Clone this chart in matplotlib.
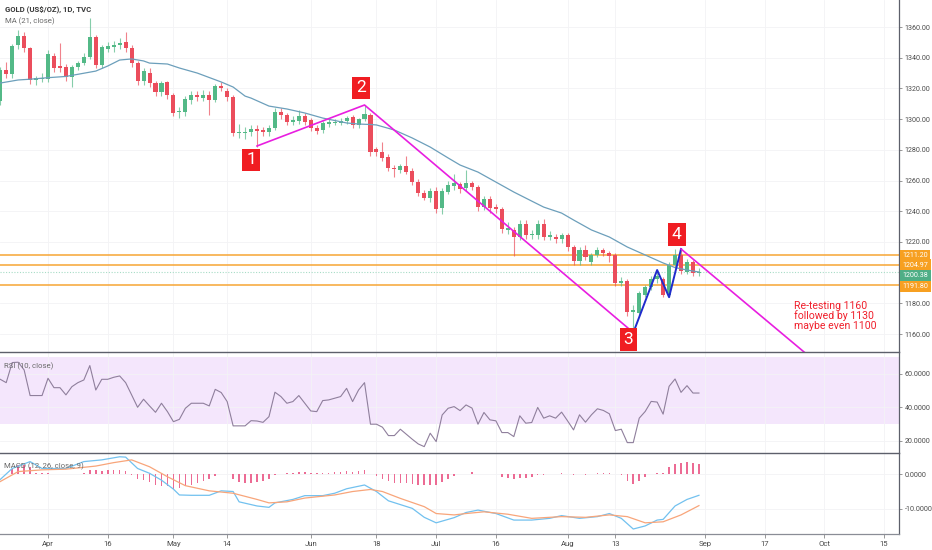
import matplotlib
matplotlib.use('Agg')
import matplotlib.pyplot as plt
import numpy as np
from matplotlib.transforms import blended_transform_factory

plt.rcParams['font.family'] = ['Roboto', 'DejaVu Sans']

# ---------------- data (bar index 0 = 2 Apr 2018, daily bars) ----------------
first_bar = -8
opens = [1312, 1332, 1329.5, 1348, 1354, 1346.3, 1325.5, 1326,
         1326, 1341, 1334, 1334, 1327.4, 1334, 1336.5, 1340.5, 1353.5, 1335.2,
         1346, 1347, 1348.5, 1350, 1346.3, 1336.5, 1324.8, 1330, 1323.5, 1317.7,
         1324, 1315.7, 1304.6, 1304.6, 1312.4, 1315.7, 1313.7, 1315.7, 1312.4, 1321.6,
         1318.3, 1314.4, 1291, 1291, 1291.6, 1293.6, 1292.9, 1291.6, 1294.2, 1304.6,
         1302.7, 1298, 1298.8, 1302, 1299.4, 1294.2, 1292.9, 1296.8, 1297.5, 1297.4,
         1298.8, 1301.4, 1296.2, 1300, 1302.7, 1280.5, 1278.6, 1275.3, 1268.1, 1266.8,
         1269.4, 1266.2, 1259, 1251.9, 1248.6, 1253.2, 1242.1, 1252.5, 1256.4, 1257.7,
         1255.1, 1258.4, 1255.8, 1242.7, 1248, 1242.7, 1241.4, 1227.8, 1227.8, 1223.2,
         1231.7, 1224.5, 1224.5, 1231.7, 1223.2, 1223.2, 1221.9, 1224.5, 1216.7, 1207.6,
         1214.7, 1206.9, 1211.5, 1214.7, 1212.8, 1211.5, 1193.2, 1194.5, 1174.3, 1173.7,
         1185.4, 1190.6, 1195.8, 1195.8, 1185.4, 1205, 1211.5, 1200.4, 1206.9, 1199.7]
highs = [1334, 1337, 1349, 1358, 1357, 1347, 1328, 1330,
         1345, 1343, 1349.5, 1336, 1335, 1338, 1343, 1366, 1355, 1348,
         1350, 1351, 1353, 1356.5, 1348, 1338, 1333, 1333, 1325, 1325,
         1325, 1317, 1308, 1315, 1318, 1318, 1319, 1318, 1323, 1324,
         1320, 1316, 1297, 1295, 1296, 1296, 1295, 1296, 1307, 1307,
         1304, 1302, 1306, 1304, 1301, 1296, 1299, 1300, 1300, 1301,
         1302, 1303, 1301, 1309, 1304, 1282, 1285, 1277, 1270, 1271,
         1276, 1268, 1261, 1254, 1255, 1256, 1255, 1260, 1264, 1259,
         1266.8, 1260, 1257, 1250, 1250, 1245, 1243, 1233, 1230, 1234,
         1234, 1228, 1234, 1235, 1227, 1225, 1226, 1226, 1218, 1217,
         1218, 1213, 1217, 1216, 1214, 1213, 1197, 1196, 1179, 1188,
         1192, 1198, 1202, 1197, 1207, 1215.4, 1215, 1209, 1208, 1203]
lows = [1309, 1327, 1327, 1346, 1344, 1323, 1322, 1324,
        1324, 1331, 1331, 1325, 1321, 1332, 1335, 1339, 1333, 1333,
        1344, 1344, 1346, 1344, 1334, 1322, 1322, 1321, 1315, 1315,
        1313, 1302, 1301, 1302, 1310, 1312, 1312, 1303, 1311, 1318,
        1312, 1289, 1288, 1287, 1289, 1282, 1289, 1289, 1293, 1300,
        1296, 1296, 1297, 1296, 1292, 1290, 1291, 1295, 1296, 1296,
        1297, 1294, 1294, 1299, 1276, 1276, 1273, 1266, 1262, 1265,
        1264, 1257, 1250, 1247, 1246, 1239, 1238, 1251, 1254, 1252,
        1253, 1254, 1240, 1241, 1239, 1239, 1226, 1225, 1211, 1221,
        1222, 1222, 1222, 1221, 1221, 1219, 1219, 1214, 1205, 1205,
        1208, 1205, 1210, 1211, 1207, 1191, 1191, 1172, 1160.5, 1172,
        1184, 1189, 1193, 1184, 1184, 1203, 1199, 1199, 1198, 1198]
closes = [1332, 1329.5, 1347.6, 1354, 1346.3, 1325.5, 1326.5, 1327,
          1342.4, 1333.3, 1333.5, 1327.4, 1334, 1336.5, 1340.5, 1353.5, 1335.2, 1347,
          1347.5, 1348.5, 1349.6, 1346.3, 1336.5, 1324.8, 1331.3, 1323.5, 1317.7, 1323.5,
          1315.7, 1304, 1305.3, 1313, 1315.7, 1314.4, 1315.7, 1312.4, 1321.6, 1320.3,
          1314.4, 1291, 1291.6, 1291.8, 1293.6, 1292.3, 1291.6, 1294.2, 1304.6, 1302.7,
          1298, 1299.4, 1302, 1298, 1294.2, 1292.3, 1297.4, 1298, 1298.2, 1298.8,
          1300.7, 1296.2, 1300, 1303.3, 1278.6, 1278.6, 1274.7, 1268.1, 1267.5, 1269.4,
          1265.5, 1259, 1251.9, 1248.6, 1253.2, 1241.4, 1253.2, 1257, 1258.4, 1254.5,
          1258.4, 1255.8, 1242.7, 1248, 1242.1, 1241.4, 1228.4, 1229, 1223.2, 1231.7,
          1224.5, 1225.1, 1231.7, 1223.2, 1224.5, 1221.9, 1224.5, 1216.7, 1207.6, 1214.7,
          1210.2, 1211.5, 1214.7, 1212.8, 1210.8, 1193.2, 1194.5, 1174.3, 1175.6, 1186.7,
          1190.6, 1195.8, 1197.5, 1185.4, 1205, 1211.5, 1201, 1206.9, 1199.7, 1200.38]

ma_idx = [-8, -5, -3, 0, 3, 5, 8, 10, 12, 14, 16, 17, 20, 22, 25, 29, 31, 33, 34, 37,
          40, 43, 46, 50, 52, 54, 55, 58, 61, 64, 67, 69, 72, 75, 78, 81, 83, 86, 88,
          91, 94, 97, 100, 103, 105, 107, 109]
ma_vals = [1323.5, 1325.5, 1326, 1327, 1327.8, 1329.2, 1331.3, 1334.6, 1338.5, 1339.2,
           1337.9, 1336.5, 1335.9, 1333.3, 1330.0, 1324.2, 1320.9, 1315, 1313.7, 1308.5,
           1306.6, 1304, 1300.7, 1297.5, 1296.8, 1296.5, 1296.2, 1292.9, 1287.7, 1281.8,
           1274.7, 1270.1, 1265.5, 1259, 1252.5, 1246.6, 1242.7, 1238.8, 1234.3, 1227.8,
           1223.2, 1216.7, 1211.5, 1206.3, 1203.3, 1201.7, 1200.4]

rsi_vals = [56.8, 54.8, 66.8, 67.0, 62.4, 47.1, 47.1, 47.1,
            57.4, 51.8, 51.8, 47.5, 52.4, 54.8, 56.4, 65.0, 50.4, 56.8,
            56.8, 58.0, 58.8, 54.8, 47.5, 40.1, 44.9, 40.9, 37.1, 42.5,
            37.5, 31.5, 32.9, 39.5, 42.5, 42.5, 42.5, 40.9, 50.8, 48.9,
            43.5, 29.0, 29.0, 29.0, 32.1, 31.9, 31.1, 34.5, 49.1, 46.5,
            42.5, 43.5, 47.1, 42.5, 37.9, 37.5, 44.1, 44.5, 45.5, 46.5,
            51.4, 43.5, 50.4, 54.8, 30.0, 30.0, 28.2, 23.2, 23.2, 27.0,
            24.0, 21.0, 18.2, 16.6, 24.6, 19.6, 35.5, 39.5, 40.5, 38.1,
            41.5, 39.6, 30.0, 37.0, 32.6, 32.0, 25.0, 25.0, 22.6, 35.0,
            30.6, 31.0, 40.0, 33.6, 35.0, 33.6, 37.2, 32.0, 26.6, 35.6,
            31.2, 35.6, 39.2, 38.2, 36.2, 26.2, 27.0, 19.0, 19.0, 33.6,
            37.6, 43.6, 43.2, 36.0, 52.6, 57.0, 49.0, 53.0, 48.6, 48.6]

macd_hist = [0.0, 0.2, 1.5, 2.8, 2.8, 2.0, 0.5, 0.3,
             0.3, 0.2, 0.2, 0.1, 0.05, 0.2, 0.3, 1.2, 1.2, 1.1,
             1.2, 1.3, 1.4, 1.0, -0.1, -1.3, -1.6, -2.3, -3.2, -3.3,
             -3.5, -4.2, -4.0, -3.5, -3.0, -2.5, -1.8, -1.5, -0.5, 0.05,
             0.05, -1.3, -2.3, -2.6, -2.5, -2.3, -2.0, -1.5, -0.3, 0.2,
             0.3, 0.4, 0.7, 0.6, 0.4, 0.3, 0.3, 0.4, 0.6, 0.7,
             0.9, 0.8, 1.0, 1.3, 0.05, -0.5, -1.3, -2.0, -2.5, -2.6,
             -2.6, -2.8, -3.0, -3.2, -3.0, -3.2, -2.3, -1.5, -0.6, 0.05,
             0.2, 0.6, 0.2, 0.1, 0.05, 0.05, -0.8, -1.2, -1.5, -1.0,
             -1.0, -0.8, -0.3, -0.2, 0.05, 0.2, 0.4, 0.1, -0.2, 0.1,
             -0.1, 0.1, 0.3, 0.5, 0.4, 0.1, -0.2, -1.8, -2.7, -1.8,
             -0.9, 0.05, 0.3, 0.3, 2.0, 2.9, 3.2, 3.5, 3.3, 3.0]

macd_idx = [-8, -6, -3, -1, 3, 6, 9, 12, 13, 15, 17, 19, 21, 22, 24, 27, 29, 31, 32, 35,
            37, 38, 41, 43, 46, 48, 50, 53, 55, 57, 61, 63, 65, 68, 70, 72, 75, 78, 81,
            84, 86, 89, 92, 94, 96, 98, 100, 102, 103, 105, 107, 109]
macd_vals = [-1.5, 1.7, 3.7, 1.7, 1.7, 3.7, 4.2, 5.1, 5.0, 1.7, 0.3, -1.7, -4.3, -6.0, -6.1,
             -6.1, -4.8, -5.0, -8.0, -9.2, -9.6, -8.3, -7.3, -6.2, -6.2, -5.5, -4.2, -3.1,
             -5.0, -7.7, -9.9, -12.5, -14.1, -12.6, -11.1, -10.4, -11.4, -13.3, -13.3,
             -12.8, -12.0, -12.8, -12.3, -11.4, -12.8, -15.9, -15.0, -13.3, -13.1, -9.2,
             -7.3, -6.1]
signal_idx = [-8, -5, -1, 3, 8, 11, 14, 17, 20, 23, 27, 31, 35, 37, 40, 43, 48, 51, 54,
              56, 59, 63, 65, 68, 70, 73, 77, 81, 86, 90, 94, 97, 100, 103, 106, 109]
signal_vals = [-2.1, 0.8, 1.3, 1.5, 2.4, 3.4, 4.2, 2.2, -0.7, -3.3, -4.8, -5.5, -7.3, -8.3,
               -8.0, -6.9, -6.0, -5.0, -4.4, -5.0, -7.0, -9.4, -11.4, -11.8, -11.4, -10.9,
               -11.6, -12.8, -12.3, -12.5, -11.8, -12.3, -14.1, -13.8, -11.8, -9.1]

level_prices = [1211.20, 1204.97, 1191.80]
last_price = 1200.38

wave_idx = [35, 53, 98]
wave_vals = [1282.5, 1309.2, 1161.0]
zig_idx = [98, 102, 104, 106]
zig_vals = [1160.8, 1201.7, 1184.0, 1215.4]
proj_idx = [106, 127]
proj_vals = [1215.4, 1147.0]

point_labels = ['1', '2', '3', '4']
point_idx = [34.0, 52.4, 97.2, 105.3]
point_vals = [1273.4, 1320.3, 1156.6, 1225.0]

tick_idx = [0, 10, 21, 30, 44, 55, 65, 75, 87, 95, 110, 120, 130, 140]
tick_lbl = ['Apr', '16', 'May', '14', 'Jun', '18', 'Jul', '16', 'Aug', '13', 'Sep', '17', 'Oct', '15']

# ---------------- figure ----------------
GREEN = '#53b987'
RED = '#eb4d5c'
AX_COL = '#5d606b'
TXT = '#4a4a4a'
GRID = '#f3f3f5'

o = np.array(opens); h = np.array(highs); l = np.array(lows); c = np.array(closes)
idx = np.arange(first_bar, first_bar + len(c))

fig = plt.figure(figsize=(9.32, 5.5), dpi=100)
W = 899 / 932
ax = fig.add_axes([0, 1 - 352 / 550, W, 352 / 550])
axr = fig.add_axes([0, 1 - 453 / 550, W, 101 / 550], sharex=ax)
axm = fig.add_axes([0, 1 - 534 / 550, W, 81 / 550], sharex=ax)

xlim = (-8.04, 142.5)

for a in (ax, axr, axm):
    a.set_xlim(*xlim)
    a.yaxis.tick_right()
    a.tick_params(axis='y', which='both', length=2.5, width=0.6, color='#888',
                  labelsize=5.1, labelcolor=TXT, pad=1.5)
    a.tick_params(axis='x', which='both', length=0, labelbottom=False)
    for s in ('left', 'top', 'bottom'):
        a.spines[s].set_visible(False)
    a.spines['right'].set_color(AX_COL)
    a.spines['right'].set_linewidth(0.9)
    a.set_xticks(tick_idx)
    a.grid(True, color=GRID, lw=0.6, zorder=0)
    a.set_axisbelow(True)

# main price panel
ax.set_ylim(1148.3, 1377.6)
ax.set_yticks([1160, 1180, 1220, 1240, 1260, 1280, 1300, 1320, 1340, 1360])
ax.yaxis.set_major_formatter(matplotlib.ticker.FormatStrFormatter('%.2f'))

cols = np.where(c >= o, GREEN, RED)
ax.vlines(idx, l, h, colors=cols, lw=0.8, alpha=0.7, zorder=2)
body_b = np.minimum(o, c)
body_h = np.maximum(np.abs(c - o), 0.8)
ax.bar(idx, body_h, bottom=body_b, width=0.68, color=cols, linewidth=0, zorder=3)

ax.plot(ma_idx, ma_vals, color='#6c9fbb', lw=0.9, zorder=4)

for p in level_prices:
    ax.axhline(p, color='#f7a534', lw=1.1, zorder=1.5)
ax.axhline(last_price, color='#a7dcc6', lw=0.8, ls=(0, (1, 1.5)), zorder=1.5)

ax.plot(wave_idx, wave_vals, color='#e81ee0', lw=1.2, zorder=5)
ax.plot(zig_idx, zig_vals, color='#1f2bcc', lw=1.4, zorder=5)
ax.plot(proj_idx, proj_vals, color='#e81ee0', lw=1.2, zorder=5)

for t, xi, yv in zip(point_labels, point_idx, point_vals):
    ax.text(xi, yv, t, color='white', fontsize=12.5, ha='center', va='center', zorder=6,
            bbox=dict(boxstyle='square,pad=0.22', fc='#f01d22', ec='none'), clip_on=False)

ax.text(125.0, 1181.8, 'Re-testing 1160\nfollowed by 1130\nmaybe even 1100',
        color='#f0202c', fontsize=7.6, ha='left', va='top', linespacing=1.0, zorder=6)

ax.text(0.006, 0.985, 'GOLD (US$/OZ), 1D, TVC', transform=ax.transAxes, fontsize=5.6,
        color='#3a3a3a', fontweight='bold', ha='left', va='top')
ax.text(0.006, 0.952, 'MA (21, close)', transform=ax.transAxes, fontsize=5.6,
        color='#6a6a6a', ha='left', va='top')

# price label boxes on the right scale
bt = blended_transform_factory(ax.transAxes, ax.transData)
box_specs = [(level_prices[0], level_prices[0], '#f7a021'),
             (level_prices[1], level_prices[1], '#f7a021'),
             (last_price, last_price - 2.4, '#4fae86'),
             (level_prices[2], level_prices[2] - 0.9, '#f7a021')]
for val, ypos, col in box_specs:
    ax.text(1.004, ypos, '%.2f' % val, transform=bt, fontsize=5.1, color='white',
            ha='left', va='center', clip_on=False, zorder=7,
            bbox=dict(boxstyle='square,pad=0.32', fc=col, ec='none'))

# RSI panel
axr.set_ylim(12.8, 73.1)
axr.set_yticks([20, 40, 60])
axr.yaxis.set_major_formatter(matplotlib.ticker.FormatStrFormatter('%.4f'))
axr.axhspan(30, 70, color='#f4e6fc', lw=0, zorder=0.5)
axr.plot(idx, rsi_vals, color='#8f7f9c', lw=0.8, zorder=3)
axr.text(0.005, 0.9, 'RSI (10, close)', transform=axr.transAxes, fontsize=5.6,
         color='#6a6a6a', ha='left', va='top')

# MACD panel
axm.set_ylim(-17.35, 6.2)
axm.set_yticks([-10, 0])
axm.yaxis.set_major_formatter(matplotlib.ticker.FormatStrFormatter('%.4f'))
axm.bar(idx, macd_hist, width=0.26, color='#ec6b94', linewidth=0, zorder=2)
axm.plot(macd_idx, macd_vals, color='#72c1ef', lw=0.9, zorder=3)
axm.plot(signal_idx, signal_vals, color='#f8a57a', lw=0.9, zorder=3)
axm.text(0.005, 0.88, 'MACD (12, 26, close, 9)', transform=axm.transAxes, fontsize=5.6,
         color='#6a6a6a', ha='left', va='top')
axm.spines['bottom'].set_visible(True)
axm.spines['bottom'].set_color('#8a8d96')
axm.spines['bottom'].set_linewidth(0.9)
axm.tick_params(axis='x', length=3, width=0.6, color='#888', labelbottom=True,
                labelsize=5.6, labelcolor=TXT, pad=2)
axm.set_xticklabels(tick_lbl)

# panel separators
for yy in (352, 453):
    fig.add_artist(plt.Line2D([0, W], [1 - yy / 550, 1 - yy / 550], transform=fig.transFigure,
                              color=AX_COL, lw=1.0))

fig.savefig('out.png', dpi=100)
